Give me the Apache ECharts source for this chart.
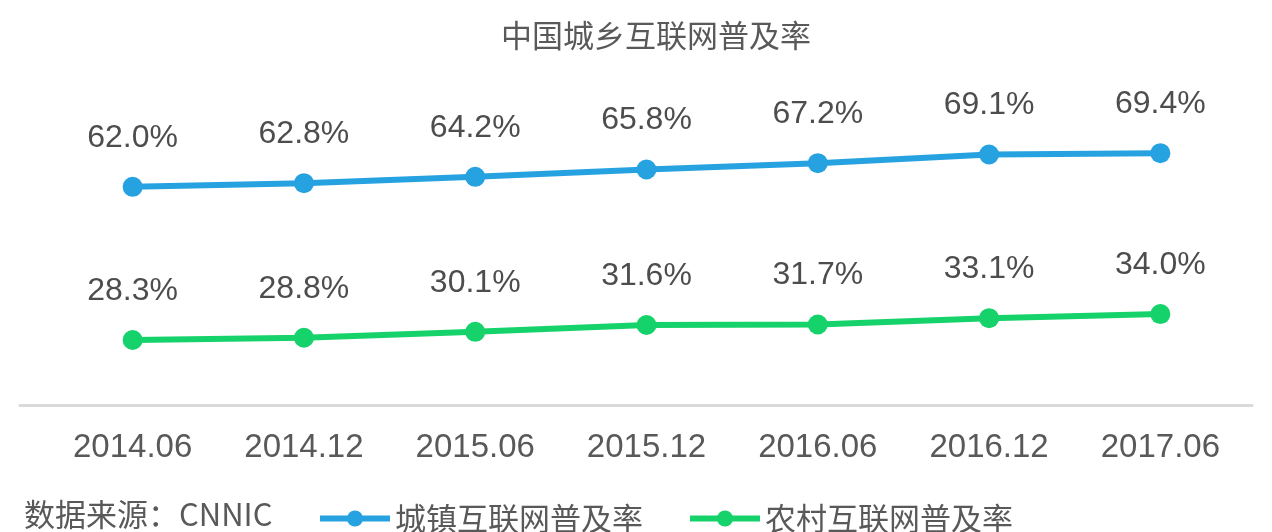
<!DOCTYPE html>
<html>
<head>
<meta charset="utf-8">
<script src="https://cdn.jsdelivr.net/npm/echarts@6/dist/echarts.min.js"></script>
<style>
html,body{margin:0;padding:0;background:#fff;}
#chart{width:1272px;height:532px;}
</style>
</head>
<body>
<div id="chart"></div>
<script>
const categories = ['2014.06','2014.12','2015.06','2015.12','2016.06','2016.12','2017.06'];
const urbanName = '城镇互联网普及率';
const ruralName = '农村互联网普及率';
const urbanValues = [62.0, 62.8, 64.2, 65.8, 67.2, 69.1, 69.4];
const ruralValues = [28.3, 28.8, 30.1, 31.6, 31.7, 33.1, 34.0];
const titleText = '中国城乡互联网普及率';
const sourceText = '数据来源：CNNIC';

const font = '"Liberation Sans", "Noto Sans CJK SC", sans-serif';
const cjkFont = '"Noto Sans CJK SC", "Liberation Sans", sans-serif';

const chart = echarts.init(document.getElementById('chart'));

function lineSeries(name, data, color) {
  return {
    name: name,
    type: 'line',
    data: data,
    xAxisIndex: 0,
    yAxisIndex: 0,
    symbol: 'circle',
    symbolSize: 20,
    lineStyle: {width: 6, color: color},
    itemStyle: {color: color},
    label: {
      show: true,
      position: 'top',
      distance: 23,
      formatter: p => p.value.toFixed(1) + '%',
      fontFamily: font,
      fontSize: 32,
      color: '#4d4d4d'
    },
    animation: false
  };
}

chart.setOption({
  backgroundColor: '#ffffff',
  title: [
    {
      text: titleText,
      left: 496,
      top: 15,
      textStyle: {fontFamily: cjkFont, fontSize: 31, fontWeight: 'normal', color: '#595959'}
    },
    {
      text: sourceText,
      left: 19,
      top: 494,
      textStyle: {fontFamily: cjkFont, fontSize: 31, fontWeight: 'normal', color: '#595959'}
    }
  ],
  legend: {
    left: 312,
    top: 498,
    itemWidth: 70,
    itemHeight: 20,
    itemGap: 44,
    lineStyle: {width: 6},
    textStyle: {fontFamily: cjkFont, fontSize: 31, color: '#595959'},
    data: [urbanName, ruralName]
  },
  grid: [
    {left: 47, right: 26, top: 105, bottom: 127},
    {left: 20, right: 20, top: 105, bottom: 127}
  ],
  xAxis: [
    {
      type: 'category',
      gridIndex: 0,
      data: categories,
      boundaryGap: true,
      axisLine: {show: false},
      axisTick: {show: false},
      axisLabel: {margin: 26, fontFamily: font, fontSize: 33, color: '#595959'}
    },
    {
      type: 'category',
      gridIndex: 1,
      data: categories,
      axisLine: {show: true, lineStyle: {color: '#d9d9d9', width: 3}},
      axisTick: {show: false},
      axisLabel: {show: false}
    }
  ],
  yAxis: [
    {type: 'value', gridIndex: 0, min: 14, max: 80, show: false, splitLine: {show: false}},
    {type: 'value', gridIndex: 1, min: 14, max: 80, show: false, splitLine: {show: false}}
  ],
  series: [
    lineSeries(urbanName, urbanValues, '#27a2e1'),
    lineSeries(ruralName, ruralValues, '#16d26a')
  ]
});
</script>
</body>
</html>
